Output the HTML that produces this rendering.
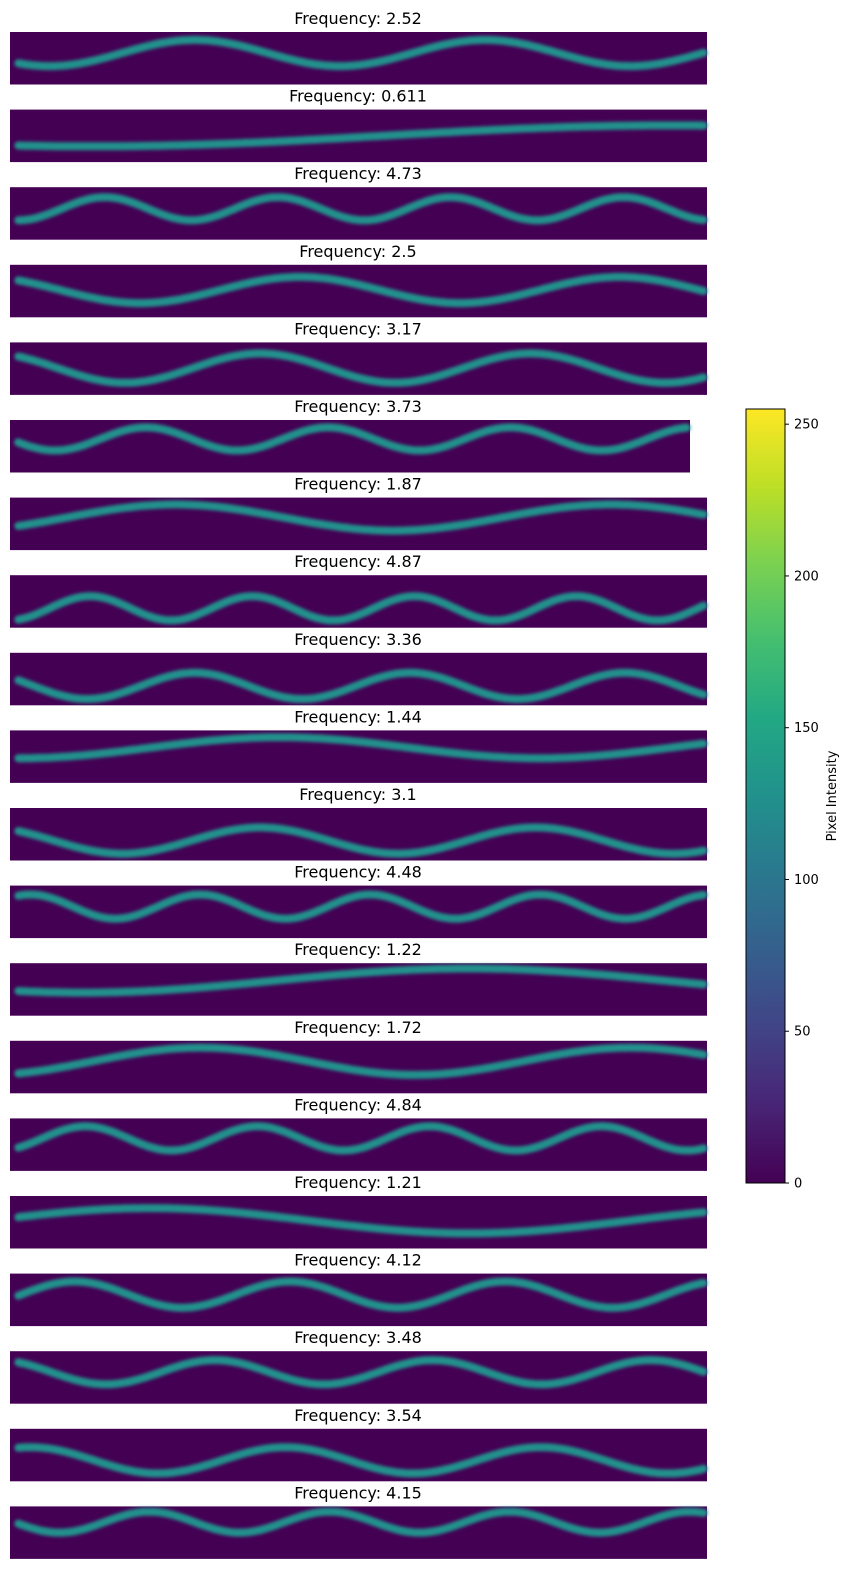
<!DOCTYPE html>
<html><head><meta charset="utf-8"><style>
body{margin:0;background:#fff;width:850px;height:1570px;overflow:hidden}
svg text{font-family:"DejaVu Sans","Liberation Sans",sans-serif}
</style></head><body>
<svg id="chart" width="850" height="1570">
<defs>
<filter id="blur" x="-5%" y="-50%" width="110%" height="200%"><feGaussianBlur stdDeviation="1.6"/></filter>
<linearGradient id="viridis" x1="0" y1="1" x2="0" y2="0">
<stop offset="0" stop-color="#440154"/><stop offset="0.1" stop-color="#482475"/><stop offset="0.2" stop-color="#414487"/><stop offset="0.3" stop-color="#355f8d"/><stop offset="0.4" stop-color="#2a788e"/><stop offset="0.5" stop-color="#21918c"/><stop offset="0.6" stop-color="#22a884"/><stop offset="0.7" stop-color="#44bf70"/><stop offset="0.8" stop-color="#7ad151"/><stop offset="0.9" stop-color="#bddf26"/><stop offset="1" stop-color="#fde725"/>
</linearGradient>
</defs>
<g id="panels"></g>
<g id="cbar"></g>
</svg>
<script>
const freqLabels=["2.52","0.611","4.73","2.5","3.17","3.73","1.87","4.87","3.36","1.44","3.1","4.48","1.22","1.72","4.84","1.21","4.12","3.48","3.54","4.15"];
const cycles=[2.4,0.6,4.03,2.18,2.58,3.73,1.6,4.3,3.24,1.34,2.53,4.1,0.9,1.62,4.05,1.09,3.24,3.2,2.73,3.87];
const centers=[0.4,0.5,0.41,0.48,0.49,0.36,0.38,0.63,0.63,0.33,0.62,0.4,0.33,0.39,0.38,0.47,0.4,0.4,0.6,0.3];
const amps=[0.25,0.2,0.22,0.25,0.28,0.22,0.25,0.23,0.25,0.2,0.25,0.23,0.23,0.26,0.23,0.24,0.25,0.23,0.25,0.2];
const peaks=[0.265,0.95,0.136,0.416,0.359,0.2,0.237,0.115,0.265,0.387,0.359,0.029,0.66,0.273,0.108,0.2,0.093,0.294,0.029,0.2];
const panelWidths=[697,697,697,697,697,680,697,697,697,697,697,697,697,697,697,697,697,697,697,697];
const cbTicks=[0,50,100,150,200,250];

const NS="http://www.w3.org/2000/svg";
const g=document.getElementById('panels');
const X0=10,TOP0=32,STEP=77.6,H=52.5;
function mk(t,a){const e=document.createElementNS(NS,t);for(const k in a)e.setAttribute(k,a[k]);return e;}
freqLabels.forEach((lab,i)=>{
  const top=TOP0+i*STEP,W=panelWidths[i];
  const r=mk('rect',{x:X0,y:top,width:W,height:H,fill:'#440154'});
  
  
  g.appendChild(r);
  const yOf=t=>top+H*(centers[i]-amps[i]*Math.sin(2*Math.PI*cycles[i]*(t-peaks[i])+Math.PI/2));
  let d='';
  for(let k=0;k<=200;k++){const t=0.012+k/200*(0.995-0.012);d+=(k?'L':'M')+(X0+t*W).toFixed(1)+' '+yOf(t).toFixed(1);}
  const p=mk('path',{d:d,fill:'none',stroke:'#21918c','stroke-width':8,'stroke-linecap':'round',filter:'url(#blur)'});
  
  
  g.appendChild(p);
  const tx=mk('text',{x:358,y:top-8,'text-anchor':'middle','font-size':16,fill:'#000'});
  tx.textContent='Frequency: '+lab;
  
  
  g.appendChild(tx);
});
const cb=document.getElementById('cbar');
const CB_TOP=409,CB_BOT=1183,CBX=746,CBW=39,VMAX=255;
const cy=v=>CB_BOT-(v/VMAX)*(CB_BOT-CB_TOP);
const cr=mk('rect',{x:CBX,y:CB_TOP,width:CBW,height:CB_BOT-CB_TOP,fill:'url(#viridis)',stroke:'#000','stroke-width':1});


cb.appendChild(cr);
cbTicks.forEach(v=>{
  const y=cy(v);
  const l=mk('line',{x1:CBX+CBW,x2:CBX+CBW+4,y1:y,y2:y,stroke:'#000'});
  
  
  cb.appendChild(l);
  const t=mk('text',{x:CBX+CBW+9,y:y+4.5,'font-size':13,fill:'#000'});
  t.textContent=v;
  
  
  cb.appendChild(t);
});
const lt=mk('text',{x:0,y:0,'font-size':13,'text-anchor':'middle',transform:'translate(836,796) rotate(-90)',fill:'#000'});
lt.textContent='Pixel Intensity';


cb.appendChild(lt);
</script>
</body></html>
